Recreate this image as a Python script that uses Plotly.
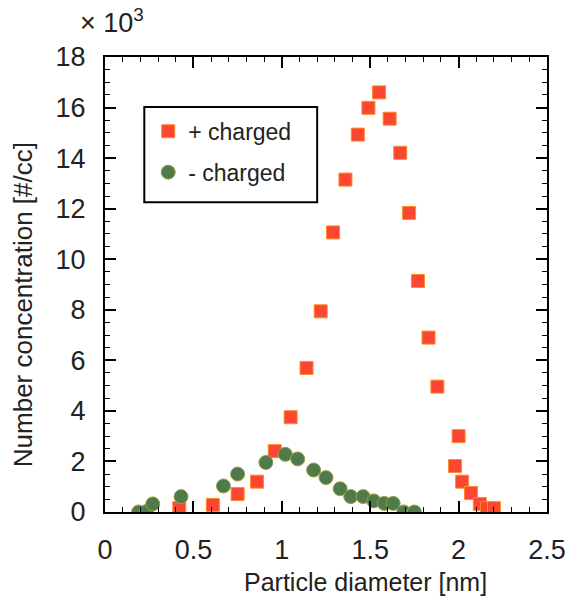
import plotly.graph_objects as go

# + charged particles (diameter nm, concentration x10^3 #/cc)
pos_d = [0.42, 0.61, 0.75, 0.86, 0.96, 1.05, 1.14, 1.22, 1.29, 1.36, 1.43, 1.49, 1.55,
         1.61, 1.67, 1.72, 1.77, 1.83, 1.88, 1.98, 2.00, 2.02, 2.07, 2.12, 2.16, 2.20]
pos_n = [0.15, 0.28, 0.71, 1.20, 2.41, 3.75, 5.70, 7.94, 11.06, 13.15, 14.93, 15.99, 16.60,
         15.56, 14.21, 11.83, 9.14, 6.90, 4.96, 1.82, 3.00, 1.20, 0.75, 0.32, 0.15, 0.15]

# - charged particles
neg_d = [0.19, 0.235, 0.27, 0.43, 0.67, 0.75, 0.91, 1.02, 1.09, 1.18, 1.25, 1.33, 1.39,
         1.46, 1.52, 1.58, 1.63, 1.69, 1.75]
neg_n = [0.0, 0.02, 0.32, 0.61, 1.03, 1.50, 1.96, 2.28, 2.10, 1.66, 1.36, 0.92, 0.61,
         0.61, 0.44, 0.34, 0.34, 0.0, 0.0]

x_ticks = [0, 0.5, 1, 1.5, 2, 2.5]
x_tick_labels = ["0", "0.5", "1", "1.5", "2", "2.5"]
y_ticks = [0, 2, 4, 6, 8, 10, 12, 14, 16, 18]
y_tick_labels = [str(v) for v in y_ticks]

FONT = "Liberation Sans, Arial, sans-serif"

fig = go.Figure()
fig.add_trace(go.Scatter(
    x=pos_d, y=pos_n, mode="markers", name="+ charged", legendgroup="pos",
    marker=dict(symbol="square", size=13, color="#fb4632",
                line=dict(color="#ff8a2a", width=1)),
))
fig.add_trace(go.Scatter(
    x=neg_d, y=neg_n, mode="markers", name="- charged", legendgroup="neg",
    marker=dict(symbol="circle", size=14, color="#4f7a4b",
                line=dict(color="#9aa040", width=1)),
))

axis_common = dict(
    showline=True, linecolor="black", linewidth=2, mirror="ticks",
    ticks="inside", tickcolor="black", tickwidth=2, ticklen=11,
    showgrid=False, zeroline=False,
    tickfont=dict(family=FONT, size=27, color="#222"),
)

fig.update_xaxes(
    range=[0, 2.5], tickvals=x_ticks, ticktext=x_tick_labels,
    minor=dict(dtick=0.1, ticks="inside", ticklen=5, tickwidth=1, tickcolor="black"),
    ticklabelstandoff=13,
    **axis_common,
)
fig.update_yaxes(
    range=[0, 18], tickvals=y_ticks, ticktext=y_tick_labels,
    minor=dict(dtick=0.5, ticks="inside", ticklen=5, tickwidth=1, tickcolor="black"),
    ticklabelstandoff=12,
    **axis_common,
)

fig.add_annotation(
    text="× 10<sup>3</sup>", xref="paper", yref="paper", x=-0.06, y=1.08,
    xanchor="left", yanchor="middle", showarrow=False,
    font=dict(family=FONT, size=27, color="#222"),
)
fig.add_annotation(
    text="Particle diameter [nm]", xref="paper", yref="paper", x=0.59, y=-0.154,
    xanchor="center", yanchor="middle", showarrow=False,
    font=dict(family=FONT, size=25, color="#222"),
)
fig.add_annotation(
    text="Number concentration [#/cc]", xref="paper", yref="paper", x=-0.185, y=0.455,
    xanchor="center", yanchor="middle", textangle=-90, showarrow=False,
    font=dict(family=FONT, size=26, color="#222"),
)

# legend frame
fig.add_shape(
    type="rect", xref="paper", yref="paper",
    x0=0.0889, x1=0.48, y0=0.681, y1=0.890,
    line=dict(color="black", width=2), fillcolor="rgba(0,0,0,0)", layer="above",
)

fig.update_layout(
    width=578, height=602,
    margin=dict(l=105, r=23, t=57, b=90),
    paper_bgcolor="white", plot_bgcolor="white",
    showlegend=True,
    legend=dict(
        x=0.0978, y=0.884, xanchor="left", yanchor="top",
        borderwidth=0, bgcolor="rgba(0,0,0,0)",
        font=dict(family=FONT, size=23, color="#222"),
        traceorder="grouped", tracegroupgap=8,
    ),
)

fig.write_html("out.html")
